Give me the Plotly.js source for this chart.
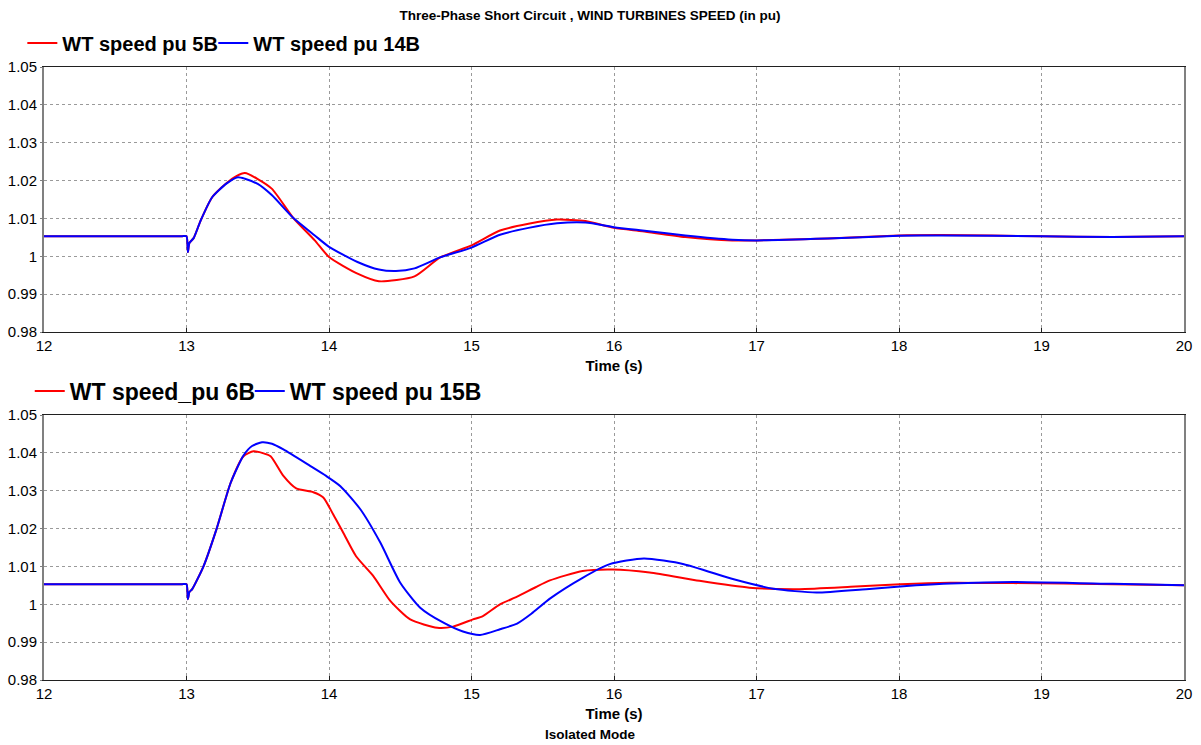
<!DOCTYPE html>
<html>
<head>
<meta charset="utf-8">
<script src="https://cdn.plot.ly/plotly-3.0.1.min.js"></script>
<style>
html,body{margin:0;padding:0;background:#fff;}
#chart{width:1201px;height:745px;}
</style>
</head>
<body>
<div id="chart"></div>
<script>
// ---- Data ----
const chartTitle = "Three-Phase Short Circuit , WIND TURBINES SPEED (in pu)";
const bottomNote = "Isolated Mode";
const xAxisTitle = "Time (s)";
const yTickVals = [0.98, 0.99, 1.00, 1.01, 1.02, 1.03, 1.04, 1.05];
const yTickText = ["0.98", "0.99", "1", "1.01", "1.02", "1.03", "1.04", "1.05"];
const xTickVals = [12, 13, 14, 15, 16, 17, 18, 19, 20];

// Top panel
const nameTopA = "WT speed pu 5B";
const nameTopB = "WT speed pu 14B";
const tTopA = [12, 12.5, 12.9, 12.97, 13.0, 13.01, 13.02, 13.05, 13.1, 13.18, 13.28, 13.35, 13.41, 13.5, 13.6, 13.75, 13.9, 14.0, 14.2, 14.35, 14.6, 14.78, 15.0, 15.2, 15.4, 15.6, 15.8, 16.0, 16.2, 16.5, 16.83, 17.0, 17.5, 18.0, 18.3, 19.0, 19.5, 20];
const vTopA = [1.0053, 1.0053, 1.0053, 1.0053, 1.0053, 1.0011, 1.0035, 1.0048, 1.0095, 1.0156, 1.0193, 1.0212, 1.0220, 1.0204, 1.0178, 1.0101, 1.0042, 0.9998, 0.9954, 0.9934, 0.9947, 0.9997, 1.0029, 1.0068, 1.0086, 1.0097, 1.0093, 1.0075, 1.0066, 1.0051, 1.0042, 1.0042, 1.0047, 1.0055, 1.0056, 1.0053, 1.0051, 1.0053];
const tTopB = [12, 12.5, 12.9, 12.97, 13.0, 13.01, 13.02, 13.05, 13.1, 13.18, 13.28, 13.36, 13.41, 13.5, 13.6, 13.75, 13.9, 14.0, 14.2, 14.35, 14.47, 14.6, 14.78, 15.0, 15.2, 15.4, 15.6, 15.8, 16.0, 16.2, 16.5, 16.83, 17.0, 17.5, 18.0, 18.3, 19.0, 19.5, 20];
const vTopB = [1.0053, 1.0053, 1.0053, 1.0053, 1.0053, 1.0011, 1.0035, 1.0048, 1.0095, 1.0156, 1.0192, 1.0209, 1.0205, 1.0191, 1.0161, 1.0101, 1.0055, 1.0025, 0.9985, 0.9965, 0.9961, 0.9968, 0.9997, 1.0023, 1.0057, 1.0075, 1.0087, 1.0089, 1.0077, 1.0068, 1.0055, 1.0044, 1.0042, 1.0047, 1.0054, 1.0055, 1.0053, 1.0051, 1.0053];

// Bottom panel
const nameBotA = "WT speed_pu 6B";
const nameBotB = "WT speed pu 15B";
const tBotA = [12, 12.5, 12.9, 12.97, 13.0, 13.01, 13.02, 13.04, 13.12, 13.21, 13.31, 13.40, 13.47, 13.53, 13.59, 13.68, 13.77, 13.89, 13.96, 14.03, 14.10, 14.19, 14.31, 14.43, 14.57, 14.76, 14.87, 15.01, 15.08, 15.2, 15.32, 15.45, 15.55, 15.78, 15.99, 16.25, 16.6, 16.95, 17.3, 17.66, 18.01, 18.36, 18.8, 19.5, 20];
const vBotA = [1.0053, 1.0053, 1.0053, 1.0053, 1.0053, 1.0013, 1.0032, 1.0040, 1.0101, 1.0198, 1.0321, 1.0391, 1.0404, 1.0400, 1.0391, 1.0339, 1.0306, 1.0296, 1.0282, 1.0237, 1.0189, 1.0127, 1.0075, 1.0009, 0.9960, 0.9938, 0.9941, 0.9960, 0.9969, 1.0000, 1.0020, 1.0045, 1.0063, 1.0088, 1.0092, 1.0084, 1.0062, 1.0044, 1.0040, 1.0046, 1.0053, 1.0057, 1.0056, 1.0053, 1.0050];
const tBotB = [12, 12.5, 12.9, 12.97, 13.0, 13.01, 13.02, 13.04, 13.12, 13.21, 13.31, 13.40, 13.46, 13.53, 13.60, 13.68, 13.87, 13.98, 14.08, 14.22, 14.36, 14.50, 14.64, 14.80, 14.94, 15.06, 15.2, 15.32, 15.42, 15.55, 15.78, 15.97, 16.21, 16.49, 16.84, 17.12, 17.42, 17.77, 18.12, 18.36, 18.8, 19.5, 20];
const vBotB = [1.0053, 1.0053, 1.0053, 1.0053, 1.0053, 1.0013, 1.0032, 1.0040, 1.0101, 1.0198, 1.0321, 1.0393, 1.0418, 1.0428, 1.0424, 1.0409, 1.0365, 1.0339, 1.0312, 1.0251, 1.0163, 1.0057, 0.9991, 0.9952, 0.9928, 0.9919, 0.9934, 0.9949, 0.9975, 1.0015, 1.0070, 1.0106, 1.0121, 1.0106, 1.0066, 1.0041, 1.0031, 1.0040, 1.0050, 1.0055, 1.0059, 1.0054, 1.0050];

// ---- Styles ----
const RED = "#ff0000", BLUE = "#0000ff";
const FONT = "Liberation Sans, Arial, sans-serif";

function trace(x, y, name, color, xa, ya, leg) {
  return {x: x, y: y, name: name, type: "scatter", mode: "lines",
    line: {color: color, width: 2, shape: "spline", smoothing: 0.6}, xaxis: xa, yaxis: ya, legend: leg};
}

const data = [
  trace(tTopA, vTopA, nameTopA, RED, "x", "y", "legend"),
  trace(tTopB, vTopB, nameTopB, BLUE, "x", "y", "legend3"),
  trace(tBotA, vBotA, nameBotA, RED, "x2", "y2", "legend2"),
  trace(tBotB, vBotB, nameBotB, BLUE, "x2", "y2", "legend4")
];

function xax(anchor) {
  return {
    range: [12, 20], tickvals: xTickVals, anchor: anchor,
    showgrid: true, gridcolor: "#9a9a9a", griddash: "dot", gridwidth: 1,
    showline: true, linecolor: "#202020", linewidth: 1, mirror: true,
    ticks: "inside", ticklen: 4, tickcolor: "#202020",
    zeroline: false,
    tickfont: {family: FONT, size: 15, color: "#000"},
    title: {text: xAxisTitle, font: {family: FONT, size: 15, color: "#000", weight: "bold"}, standoff: 7}
  };
}
function yax(domain, anchor) {
  return {
    range: [0.98, 1.05], domain: domain, anchor: anchor,
    tickvals: yTickVals, ticktext: yTickText,
    showgrid: true, gridcolor: "#9a9a9a", griddash: "dot", gridwidth: 1,
    showline: true, linecolor: "#808080", linewidth: 2, mirror: true,
    ticks: "outside", ticklen: 2, tickcolor: "#808080",
    zeroline: false,
    tickfont: {family: FONT, size: 15, color: "#000"}
  };
}

function leg(x, y, size) {
  return {orientation: "h", x: x, xanchor: "left", y: y, yanchor: "middle",
    bgcolor: "rgba(0,0,0,0)", font: {family: FONT, size: size, color: "#000", weight: "bold"}, itemwidth: 30};
}

const layout = {
  width: 1201, height: 745,
  paper_bgcolor: "#fff", plot_bgcolor: "#fff",
  margin: {l: 44, r: 17, t: 67, b: 65},
  font: {family: FONT, color: "#000"},
  title: {text: chartTitle, font: {family: FONT, size: 13.5, color: "#000", weight: "bold"},
    x: 590 / 1201, xanchor: "center", xref: "container", y: 1 - 15 / 745, yanchor: "middle", yref: "container"},
  xaxis: xax("y"),
  yaxis: yax([0.5677, 1], "x"),
  xaxis2: xax("y2"),
  yaxis2: yax([0, 0.4323], "x2"),
  showlegend: true,
  legend: leg(-0.019, 1.039, 20),
  legend3: leg(0.1485, 1.039, 20),
  legend2: leg(-0.0125, 0.4715, 23),
  legend4: leg(0.1805, 0.4715, 23),
  annotations: [{
    text: bottomNote, xref: "paper", yref: "paper", x: (590 - 44) / 1140, y: (680 - 734) / 613,
    xanchor: "center", yanchor: "middle", showarrow: false,
    font: {family: FONT, size: 13.5, color: "#000", weight: "bold"}
  }]
};

Plotly.newPlot("chart", data, layout, {displayModeBar: false, staticPlot: true});
</script>
</body>
</html>
